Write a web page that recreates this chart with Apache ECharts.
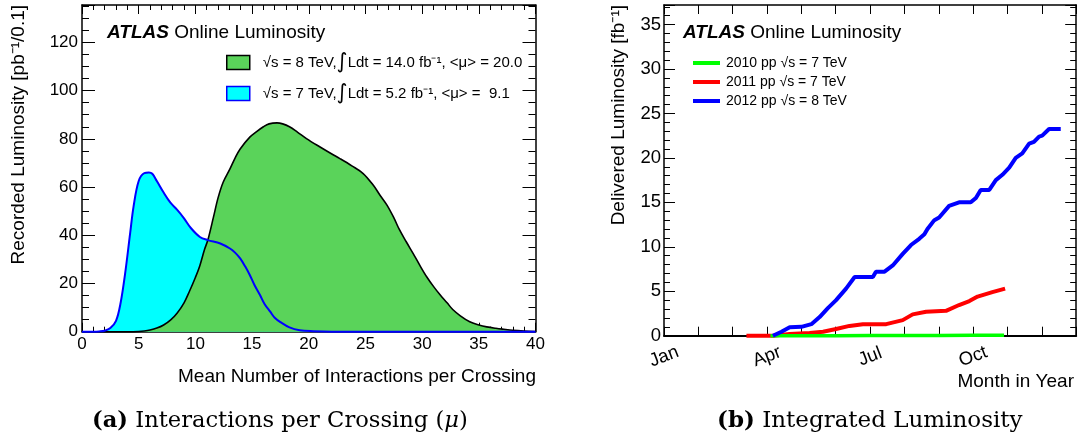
<!DOCTYPE html>
<html>
<head>
<meta charset="utf-8">
<script src="https://cdn.jsdelivr.net/npm/echarts@6/dist/echarts.min.js"></script>
<style>
html,body{margin:0;padding:0;background:#fff;}
#c{width:1079px;height:441px;}
</style>
</head>
<body>
<div id="c"></div>
<script>
// ---------- Data: (a) mean interactions per crossing ----------
// [mu, recorded luminosity pb^-1/0.1]
var mu8TeV = [[0,0],[4,0],[5,0.1],[5.5,0.3],[6.0,0.7],[6.6,1.5],[7.2,2.8],[7.8,4.8],[8.4,7.8],[9.0,12],[9.5,17],[10.0,22.5],[10.4,27.5],[10.8,34],[11.1,38],[11.6,47.6],[12.0,55.5],[12.45,62],[13.05,67.5],[13.5,72],[13.95,75.8],[14.8,80.7],[15.4,83],[16.0,85],[16.5,86.2],[17.2,86.6],[17.7,86.2],[18.3,85],[19.0,82.8],[19.8,80.1],[21.0,76.6],[22.0,73.8],[22.75,71.8],[23.8,68.8],[24.8,65.6],[25.7,60.7],[26.3,56.5],[26.9,52.5],[27.5,47.3],[28.0,42.3],[28.6,37.3],[29.2,32.5],[29.8,27.5],[30.4,22.8],[31.0,18.8],[31.6,15.2],[32.2,12],[32.7,9.2],[33.4,6.5],[34.2,4.1],[35.0,2.8],[35.7,2.0],[36.5,1.4],[37.2,1.0],[38.0,0.6],[39.0,0.3],[40,0.1]];
var mu7TeV = [[0,0],[1,0],[1.5,0.1],[2,0.4],[2.5,1.5],[3.0,4.5],[3.4,11.8],[3.8,24],[4.25,41],[4.55,52],[5.0,62.5],[5.5,65.8],[5.9,66],[6.2,65.5],[6.6,62.5],[7.2,57.7],[7.8,53.5],[8.4,50.5],[9.0,47],[9.6,43],[10.4,39.3],[11.1,38],[12.2,36.6],[13.05,34.5],[13.5,32.8],[13.95,30.4],[14.4,27],[14.8,23.5],[15.2,19.5],[15.7,15.2],[16.1,11.5],[16.6,8.3],[17.0,5.8],[17.5,4.0],[18.3,1.8],[19.2,0.6],[20.4,0.2],[22,0],[40,0]];
var legendA = {
  '8TeV': '√s = 8 TeV,{i|∫}Ldt = 14.0 fb⁻¹, <μ> = 20.0',
  '7TeV': '√s = 7 TeV,{i|∫}Ldt = 5.2 fb⁻¹, <μ> =  9.1'
};

// ---------- Data: (b) delivered luminosity vs month (0 = Jan 1, 12 = Dec 31) ----------
var lumi2010 = [[3.1,0],[4.0,0.001],[5.0,0.004],[6.0,0.01],[7.0,0.02],[8.0,0.03],[9.0,0.04],[9.9,0.048]];
var lumi2011 = [[2.4,0],[3.17,0],[3.66,0.2],[4.24,0.3],[4.63,0.45],[5.01,0.75],[5.4,1.1],[5.79,1.3],[6.47,1.3],[6.95,1.75],[7.24,2.4],[7.63,2.7],[8.21,2.8],[8.59,3.45],[8.89,3.9],[9.13,4.4],[9.56,4.9],[9.93,5.3]];
var lumi2012 = [[3.17,0],[3.42,0.45],[3.66,0.95],[4.0,1.0],[4.29,1.3],[4.53,2.1],[4.77,3.1],[5.01,4.0],[5.3,5.3],[5.55,6.6],[6.08,6.6],[6.17,7.2],[6.42,7.2],[6.66,7.9],[6.95,9.2],[7.19,10.2],[7.43,10.9],[7.58,11.4],[7.67,12.0],[7.87,13.0],[8.01,13.3],[8.3,14.6],[8.59,15.0],[8.93,15.0],[9.08,15.5],[9.22,16.4],[9.47,16.4],[9.66,17.5],[9.85,18.1],[10.05,18.9],[10.24,20.0],[10.43,20.5],[10.63,21.6],[10.77,21.8],[10.92,22.4],[11.01,22.5],[11.21,23.25],[11.55,23.25]];
var monthLabels = {0:'Jan',3:'Apr',6:'Jul',9:'Oct'};
var legendB = {
  'y2010': '2010 pp √s = 7 TeV',
  'y2011': '2011 pp √s = 7 TeV',
  'y2012': '2012 pp √s = 8 TeV'
};

var FONT = 'Liberation Sans';
var chart = echarts.init(document.getElementById('c'), null, {renderer:'canvas'});

function axisBase(extra){
  var o = {
    type:'value',
    axisLine:{show:true, onZero:false, lineStyle:{color:'#000', width:1.5}},
    splitLine:{show:false},
    axisTick:{show:true, inside:true, length:9, lineStyle:{color:'#000', width:1}},
    minorTick:{show:false},
    axisLabel:{show:false}
  };
  for (var k in extra) o[k] = extra[k];
  return o;
}
var lblA = {color:'#000', fontFamily:FONT, fontSize:17};
var lblB = {color:'#000', fontFamily:FONT, fontSize:18.5};

var option = {
  animation:false,
  textStyle:{fontFamily:FONT},
  grid:[
    {left:82, top:5, width:453.5, height:326.7},
    {left:664, top:5, width:413.3, height:330.7}
  ],
  xAxis:[
    axisBase({gridIndex:0, position:'bottom', min:0, max:40, interval:5,
      axisLabel:Object.assign({show:true, margin:4}, lblA),
      minorTick:{show:true, splitNumber:5, length:5, lineStyle:{color:'#000'}}}),
    axisBase({gridIndex:0, position:'top', min:0, max:40, interval:5,
      minorTick:{show:true, splitNumber:5, length:5, lineStyle:{color:'#000'}}}),
    axisBase({gridIndex:1, position:'bottom', min:0, max:12, interval:1,
      axisLine:{show:true, onZero:false, lineStyle:{color:'#000', width:2}},
      axisLabel:Object.assign({show:true, margin:21, rotate:21, align:'center', verticalAlign:'middle',
        formatter:function(v){ return monthLabels[v] || ''; }}, lblB)}),
    axisBase({gridIndex:1, position:'top', min:0, max:12, interval:1})
  ],
  yAxis:[
    axisBase({gridIndex:0, position:'left', min:0, max:135.5, interval:20,
      axisTick:{show:true, inside:true, length:13, lineStyle:{color:'#000'}},
      minorTick:{show:true, splitNumber:4, length:7, lineStyle:{color:'#000'}},
      axisLabel:Object.assign({show:true, margin:4, showMaxLabel:false}, lblA)}),
    axisBase({gridIndex:0, position:'right', min:0, max:135.5, interval:20,
      axisTick:{show:true, inside:true, length:13, lineStyle:{color:'#000'}},
      minorTick:{show:true, splitNumber:4, length:7, lineStyle:{color:'#000'}}}),
    axisBase({gridIndex:1, position:'left', min:0, max:37.2, interval:5,
      axisTick:{show:true, inside:true, length:11, lineStyle:{color:'#000'}},
      minorTick:{show:true, splitNumber:5, length:6, lineStyle:{color:'#000'}},
      axisLabel:Object.assign({show:true, margin:3, showMaxLabel:false}, lblB)}),
    axisBase({gridIndex:1, position:'right', min:0, max:37.2, interval:5,
      axisTick:{show:true, inside:true, length:11, lineStyle:{color:'#000'}},
      minorTick:{show:true, splitNumber:5, length:6, lineStyle:{color:'#000'}}})
  ],
  legend:[
    {
      orient:'vertical', left:226, top:52, padding:0, itemWidth:23, itemHeight:14, itemGap:10,
      selectedMode:false,
      data:[
        {name:'8TeV', icon:'rect', itemStyle:{color:'#5ad35a', borderColor:'#000', borderWidth:1.5}},
        {name:'7TeV', icon:'rect', itemStyle:{color:'#00ffff', borderColor:'#0000ff', borderWidth:1.5}}
      ],
      formatter:function(n){ return legendA[n]; },
      textStyle:{color:'#000', fontFamily:FONT, fontSize:15, padding:[0,0,0,8],
        rich:{i:{fontSize:21, fontFamily:'DejaVu Sans', color:'#000'}}}
    },
    {
      orient:'vertical', left:693, top:56, padding:0, itemWidth:27, itemHeight:4, itemGap:5,
      selectedMode:false,
      data:[
        {name:'y2010', icon:'rect', itemStyle:{color:'#00ff00', borderWidth:0}},
        {name:'y2011', icon:'rect', itemStyle:{color:'#ff0000', borderWidth:0}},
        {name:'y2012', icon:'rect', itemStyle:{color:'#0000ff', borderWidth:0}}
      ],
      formatter:function(n){ return legendB[n]; },
      textStyle:{color:'#000', fontFamily:FONT, fontSize:14, padding:[0,0,0,1]}
    }
  ],
  series:[
    {name:'7TeV', type:'line', xAxisIndex:0, yAxisIndex:0, data:mu7TeV, smooth:0.35,
      symbol:'none', clip:false, lineStyle:{width:0, color:'#0000ff'}, areaStyle:{color:'#00ffff', opacity:1}, z:2},
    {name:'8TeV', type:'line', xAxisIndex:0, yAxisIndex:0, data:mu8TeV, smooth:0.35,
      symbol:'none', clip:false, lineStyle:{width:1.6, color:'#000'}, itemStyle:{color:'#5ad35a'}, areaStyle:{color:'#5ad35a', opacity:1}, z:3},
    {name:'7TeV line', type:'line', xAxisIndex:0, yAxisIndex:0, data:mu7TeV, smooth:0.35,
      symbol:'none', clip:false, lineStyle:{width:2, color:'#0000ff'}, z:4},
    {name:'y2011', type:'line', xAxisIndex:2, yAxisIndex:2, data:lumi2011,
      symbol:'none', clip:false, lineStyle:{width:4, color:'#ff0000'}, itemStyle:{color:'#ff0000'}, z:3},
    {name:'y2010', type:'line', xAxisIndex:2, yAxisIndex:2, data:lumi2010,
      symbol:'none', clip:false, lineStyle:{width:3.5, color:'#00ff00'}, itemStyle:{color:'#00ff00'}, z:3},
    {name:'y2012', type:'line', xAxisIndex:2, yAxisIndex:2, data:lumi2012,
      symbol:'none', clip:false, lineStyle:{width:4, color:'#0000ff'}, itemStyle:{color:'#0000ff'}, z:4}
  ],
  graphic:[
    {type:'text', x:107, y:33, style:{text:'{a|ATLAS} Online Luminosity', fill:'#000', font:'19px "Liberation Sans"',
      align:'left', textAlign:'left', verticalAlign:'middle', textVerticalAlign:'middle',
      rich:{a:{fontWeight:'bold', fontStyle:'italic', fontSize:19, fontFamily:FONT, fill:'#000'}}}},
    {type:'text', x:683, y:33, style:{text:'{a|ATLAS} Online Luminosity', fill:'#000', font:'19px "Liberation Sans"',
      align:'left', textAlign:'left', verticalAlign:'middle', textVerticalAlign:'middle',
      rich:{a:{fontWeight:'bold', fontStyle:'italic', fontSize:19, fontFamily:FONT, fill:'#000'}}}},
    {type:'text', x:19, y:5, rotation:Math.PI/2, style:{text:'Recorded Luminosity [pb⁻¹/0.1]', fill:'#000', font:'19px "Liberation Sans"',
      align:'right', textAlign:'right', verticalAlign:'middle', textVerticalAlign:'middle'}},
    {type:'text', x:618.5, y:5, rotation:Math.PI/2, style:{text:'Delivered Luminosity [fb⁻¹]', fill:'#000', font:'19px "Liberation Sans"',
      align:'right', textAlign:'right', verticalAlign:'middle', textVerticalAlign:'middle'}},
    {type:'text', x:536, y:377, style:{text:'Mean Number of Interactions per Crossing', fill:'#000', font:'19px "Liberation Sans"',
      align:'right', textAlign:'right', verticalAlign:'middle', textVerticalAlign:'middle'}},
    {type:'text', x:1074, y:382, style:{text:'Month in Year', fill:'#000', font:'19px "Liberation Sans"',
      align:'right', textAlign:'right', verticalAlign:'middle', textVerticalAlign:'middle'}},
    {type:'text', x:92, y:421, style:{text:'{b|(a)} Interactions per Crossing ({i|μ})', fill:'#000', font:'22.6px "DejaVu Serif"',
      align:'left', textAlign:'left', verticalAlign:'middle', textVerticalAlign:'middle',
      rich:{b:{fontWeight:'bold', fontSize:22.6, fontFamily:'DejaVu Serif', fill:'#000'}, i:{fontStyle:'italic', fontSize:22.6, fontFamily:'DejaVu Serif', fill:'#000'}}}},
    {type:'text', x:717, y:421, style:{text:'{b|(b)} Integrated Luminosity', fill:'#000', font:'23px "DejaVu Serif"',
      align:'left', textAlign:'left', verticalAlign:'middle', textVerticalAlign:'middle',
      rich:{b:{fontWeight:'bold', fontSize:23, fontFamily:'DejaVu Serif', fill:'#000'}}}}
  ]
};
chart.setOption(option);
</script>
</body>
</html>
